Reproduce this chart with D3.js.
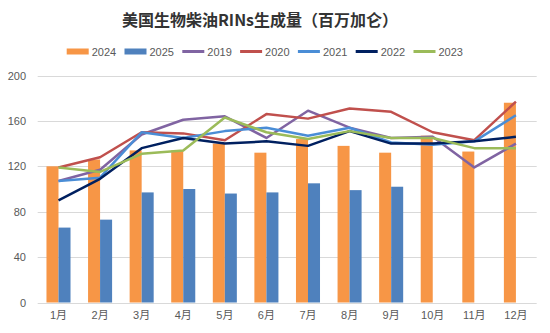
<!DOCTYPE html>
<html>
<head>
<meta charset="utf-8">
<script src="https://cdn.jsdelivr.net/npm/d3@7"></script>
<style>
  body { margin: 0; background: #fff; }
  svg { display: block; font-family: "Liberation Sans", Arial, "Noto Sans CJK SC", sans-serif; }
</style>
</head>
<body>
<div class="chart"></div>
<script>
// data
var months = ["1月","2月","3月","4月","5月","6月","7月","8月","9月","10月","11月","12月"];
var barSeries = ["2024","2025"];
var lineSeries = ["2019","2020","2021","2022","2023"];
var v2024 = [120, 126, 134, 134, 140, 132, 144, 138, 132, 147, 133, 176];
var v2025 = [66, 73, 97, 100, 96, 97, 105, 99, 102, null, null, null];
var v2019 = [107, 117, 148, 161, 164, 145, 169, 154, 145, 146, 119, 140];
var v2020 = [119, 128, 150, 149, 143, 166, 162, 171, 168, 150, 143, 177];
var v2021 = [107, 110, 150, 145, 151, 154, 147, 154, 141, 139, 142, 165];
var v2022 = [90, 109, 136, 145, 140, 142, 138, 151, 140, 140, 142, 146];
var v2023 = [119, 115, 131, 134, 163, 150, 144, 151, 145, 145, 136, 136];
var yTicks = [0, 40, 80, 120, 160, 200];

var colors = {
    "2024": "#F79646",
    "2025": "#4F81BD",
    "2019": "#8064A2",
    "2020": "#C0504D",
    "2021": "#4A8DD6",
    "2022": "#002060",
    "2023": "#9BBB59"
};

var w = 550;
var h = 333;
var plotLeft = 37.7, plotRight = 536.7, plotTop = 75.5, plotBottom = 302.5;

var svg = d3.select(".chart")
            .append("svg")
            .attr("width", w)
            .attr("height", h);

var xScale = d3.scaleBand()
    .domain(months)
    .range([plotLeft, plotRight])
    .paddingInner(0);
var xInner = d3.scaleBand()
    .domain(barSeries)
    .range([0, xScale.bandwidth()])
    .paddingInner(0)
    .paddingOuter(0.73);
var yScale = d3.scaleLinear()
    .domain([0, 200])
    .range([plotBottom, plotTop]);

// title
svg.append("text")
    .attr("x", 260)
    .attr("y", 26)
    .attr("text-anchor", "middle")
    .attr("font-size", 16)
    .attr("font-weight", "bold")
    .attr("fill", "#333333")
    .attr("font-family", "'Noto Sans CJK SC', sans-serif")
    .text("美国生物柴油RINs生成量（百万加仑）");

// grid
svg.selectAll(".grid")
    .data(yTicks)
    .enter()
    .append("line")
    .attr("class", "grid")
    .attr("x1", plotLeft)
    .attr("x2", plotRight)
    .attr("y1", function(d){ return Math.round(yScale(d)) + 0.5; })
    .attr("y2", function(d){ return Math.round(yScale(d)) + 0.5; })
    .attr("stroke", "#d9d9d9")
    .attr("stroke-width", 1);

// y axis labels
var yAxis = d3.axisLeft(yScale).tickValues(yTicks).tickSize(0).tickPadding(0);
var gy = svg.append("g")
    .attr("transform", "translate(26,0)")
    .call(yAxis);
gy.select(".domain").remove();
gy.selectAll("text")
    .attr("font-size", 11)
    .attr("fill", "#595959")
    .attr("font-family", "'Liberation Sans', Arial, sans-serif");

// x axis labels
var xAxis = d3.axisBottom(xScale).tickSize(0).tickPadding(9);
var gx = svg.append("g")
    .attr("transform", "translate(0," + plotBottom + ")")
    .call(xAxis);
gx.select(".domain").remove();
gx.selectAll("text")
    .attr("font-size", 11)
    .attr("fill", "#595959")
    .attr("font-family", "'Liberation Sans', 'Noto Sans CJK SC', sans-serif");

// bars
var barData = [];
months.forEach(function(m, i){
    barData.push({month: m, key: "2024", value: v2024[i]});
    if (v2025[i] != null) barData.push({month: m, key: "2025", value: v2025[i]});
});
svg.selectAll(".bar")
    .data(barData)
    .enter()
    .append("rect")
    .attr("class", "bar")
    .attr("x", function(d){ return xScale(d.month) + xInner(d.key); })
    .attr("y", function(d){ return yScale(d.value); })
    .attr("width", xInner.bandwidth())
    .attr("height", function(d){ return plotBottom - yScale(d.value); })
    .attr("fill", function(d){ return colors[d.key]; });

// lines
var lineValues = {"2019": v2019, "2020": v2020, "2021": v2021, "2022": v2022, "2023": v2023};
var line = d3.line()
    .x(function(d, i){ return xScale(months[i]) + xScale.bandwidth() / 2; })
    .y(function(d){ return yScale(d); });
lineSeries.forEach(function(s){
    svg.append("path")
        .datum(lineValues[s])
        .attr("fill", "none")
        .attr("stroke", colors[s])
        .attr("stroke-width", 2.5)
        .attr("stroke-linejoin", "round")
        .attr("d", line);
});

// legend
var legendKeys = barSeries.concat(lineSeries);
var lg = svg.selectAll(".legend")
    .data(legendKeys)
    .enter()
    .append("g")
    .attr("class", "legend")
    .attr("transform", function(d, i){ return "translate(" + (66.7 + i * 57.8) + ",51.5)"; });
lg.append("rect")
    .attr("x", 0)
    .attr("y", function(d){ return barSeries.indexOf(d) >= 0 ? -3 : -1.5; })
    .attr("width", 22)
    .attr("height", function(d){ return barSeries.indexOf(d) >= 0 ? 6 : 3; })
    .attr("fill", function(d){ return colors[d]; });
lg.append("text")
    .attr("x", 25)
    .attr("y", 4)
    .attr("font-size", 11)
    .attr("fill", "#595959")
    .text(function(d){ return d; });
</script>
</body>
</html>
